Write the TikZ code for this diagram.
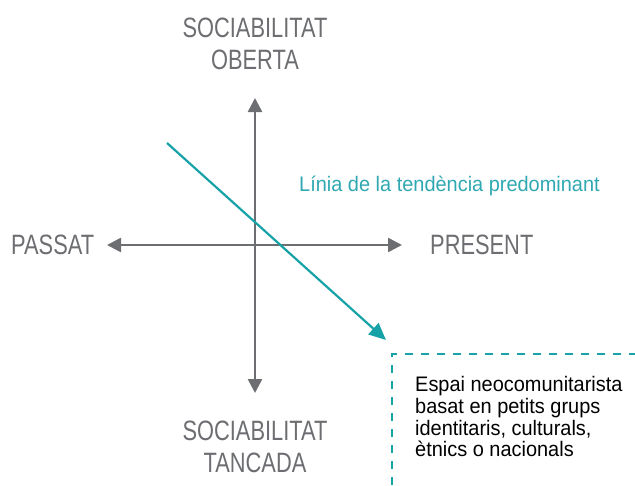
\documentclass[tikz,border=0pt]{standalone}
\usepackage{fontspec}
\setmainfont[FakeStretch=0.78]{Liberation Sans}
\newfontfamily\widefont[FakeStretch=0.95]{Liberation Sans}
\usetikzlibrary{arrows.meta}
\definecolor{axisgray}{HTML}{6D6E71}
\definecolor{tealline}{HTML}{17A2A8}
\definecolor{tealtext}{HTML}{30A8B2}
\tikzset{
  axis/.style={draw=axisgray, line width=2.6pt, -{Triangle[length=14pt,width=14pt]}},
  trend/.style={draw=tealline, line width=2.2pt, -{Triangle[length=17pt,width=15pt]}},
  biglabel/.style={text=axisgray, font=\fontsize{28}{32.5}\selectfont, align=center, inner sep=0pt},
  boxtext/.style={text=black, font=\widefont\fontsize{21}{21.8}\selectfont, align=left, inner sep=0pt, anchor=north west},
  dashline/.style={draw=tealline, line width=1.3pt, dash pattern=on 8pt off 8pt}
}
\begin{document}
\begin{tikzpicture}[x=1pt,y=-1pt]
\useasboundingbox (0,0) rectangle (635,485);
\coordinate (c) at (255,245);
\coordinate (top) at (255,98);
\coordinate (bot) at (255,393);
\coordinate (left) at (107,245);
\coordinate (right) at (402,245);
\draw[axis] (c) -- (top);
\draw[axis] (c) -- (bot);
\draw[axis] (c) -- (left);
\draw[axis] (c) -- (right);
\coordinate (ts) at (167,143);
\coordinate (te) at (386,340);
\draw[trend] (ts) -- (te);
\node[biglabel] (open) at (255,44) {SOCIABILITAT\\OBERTA};
\node[biglabel] (closed) at (255,447) {SOCIABILITAT\\TANCADA};
\node[biglabel, anchor=west] (past) at (11,245) {PASSAT};
\node[biglabel, anchor=west] (present) at (430,245) {PRESENT};
\node[text=tealtext, font=\widefont\fontsize{21}{24}\selectfont, anchor=base west, inner sep=0pt] (trendlabel) at (299,191.5) {Línia de la tendència predominant};
\coordinate (bl) at (392,485);
\coordinate (tl) at (392,354);
\coordinate (tr) at (635,354);
\draw[dashline] (bl) -- (tl) -- (tr);
\node[boxtext] (desc) at (415,376) {Espai neocomunitarista\\basat en petits grups\\identitaris, culturals,\\ètnics o nacionals};
\end{tikzpicture}
\end{document}
